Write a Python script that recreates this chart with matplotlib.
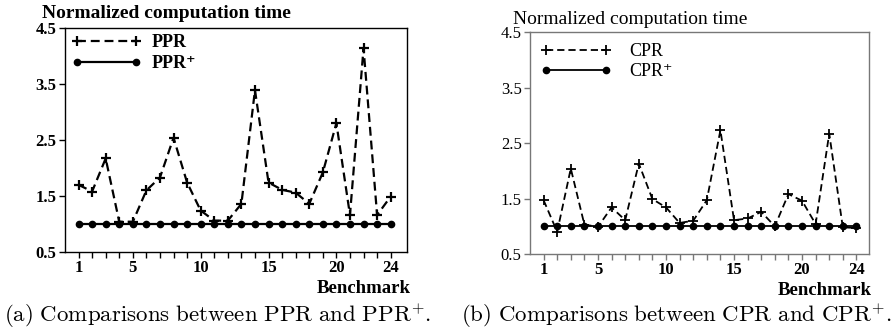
import matplotlib
matplotlib.use("Agg")
import matplotlib.pyplot as plt
from matplotlib.ticker import FixedLocator, FixedFormatter

# Benchmarks 1..24
benchmarks = list(range(1, 25))

# Normalized computation time, panel (a)
ppr = [1.70, 1.58, 2.17, 1.04, 1.04, 1.60, 1.83, 2.54, 1.74, 1.24, 1.06, 1.06,
       1.36, 3.39, 1.74, 1.61, 1.56, 1.36, 1.92, 2.80, 1.16, 4.14, 1.16, 1.49]
ppr_plus = [1.0] * 24

# Normalized computation time, panel (b)
cpr = [1.47, 0.90, 2.04, 1.03, 0.99, 1.34, 1.11, 2.13, 1.49, 1.34, 1.06, 1.10,
       1.47, 2.73, 1.11, 1.14, 1.26, 1.00, 1.58, 1.46, 1.04, 2.67, 0.98, 0.97]
cpr_plus = [1.0] * 24

y_ticks = [0.5, 1.5, 2.5, 3.5, 4.5]
x_labels = {1: "1", 5: "5", 10: "10", 15: "15", 20: "20", 24: "24"}

SERIF = ["Liberation Serif", "DejaVu Serif"]

fig = plt.figure(figsize=(8.96, 3.36), dpi=100)


def panel(rect, dashed, solid, names, weight, spine_color, lw, xmax,
          title_x, title_y, leg_pad, text_pad, caption, cap_x):
    ax = fig.add_axes(rect)
    ax.plot(benchmarks, dashed, color="black", lw=lw, dashes=(4, 2.2),
            marker="+", markersize=7, markeredgewidth=lw, label=names[0])
    ax.plot(benchmarks, solid, color="black", lw=lw, linestyle="-",
            marker="o", markersize=4.5, label=names[1])
    ax.set_xlim(0, xmax)
    ax.set_ylim(0.5, 4.5)

    ax.xaxis.set_major_locator(FixedLocator(benchmarks))
    ax.xaxis.set_major_formatter(FixedFormatter([x_labels.get(b, "") for b in benchmarks]))
    ax.yaxis.set_major_locator(FixedLocator(y_ticks))
    ax.set_yticklabels([f"{v:.1f}" for v in y_ticks])
    ax.tick_params(axis="both", direction="out", length=4, width=1,
                   color=spine_color, pad=2)
    for lab in ax.get_xticklabels():
        lab.set_fontfamily(SERIF)
        lab.set_fontweight("bold")
        lab.set_fontsize(12)
    for lab in ax.get_yticklabels():
        lab.set_fontfamily(SERIF)
        lab.set_fontweight(weight)
        lab.set_fontsize(12)
    for s in ax.spines.values():
        s.set_color(spine_color)
        s.set_linewidth(1.0)

    ax.legend(loc="upper left", frameon=False, numpoints=2,
              handlelength=3.9, handletextpad=text_pad, borderpad=0,
              borderaxespad=leg_pad, labelspacing=0.2,
              prop={"family": SERIF, "weight": weight, "size": 13})

    ax.text(title_x, title_y, "Normalized computation time", transform=ax.transAxes,
            ha="left", va="baseline", fontsize=14, family=SERIF, fontweight=weight)
    ax.text(1.01, -0.185, "Benchmark", transform=ax.transAxes, ha="right",
            va="baseline", fontsize=13.5, family=SERIF, fontweight="bold")
    fig.text(cap_x, 0.042, caption, ha="left", va="baseline", fontsize=16.5,
             math_fontfamily="cm")
    return ax


panel([0.0725, 0.25, 0.3817, 0.6667], ppr, ppr_plus, ["PPR", "PPR\u207a"],
      "bold", "black", 1.6, 25.2, -0.067, 1.045, 0.35, 0.55,
      r"$\mathrm{(a)\ Comparisons\ between\ PPR\ and\ PPR^{+}.}$", 0.005)
panel([0.5915, 0.244, 0.378, 0.6607], cpr, cpr_plus, ["CPR", "CPR\u207a"],
      "normal", "#777777", 1.3, 24.9, -0.05, 1.036, 0.6, 1.0,
      r"$\mathrm{(b)\ Comparisons\ between\ CPR\ and\ CPR^{+}.}$", 0.5145)

fig.savefig("out.png", dpi=100)
